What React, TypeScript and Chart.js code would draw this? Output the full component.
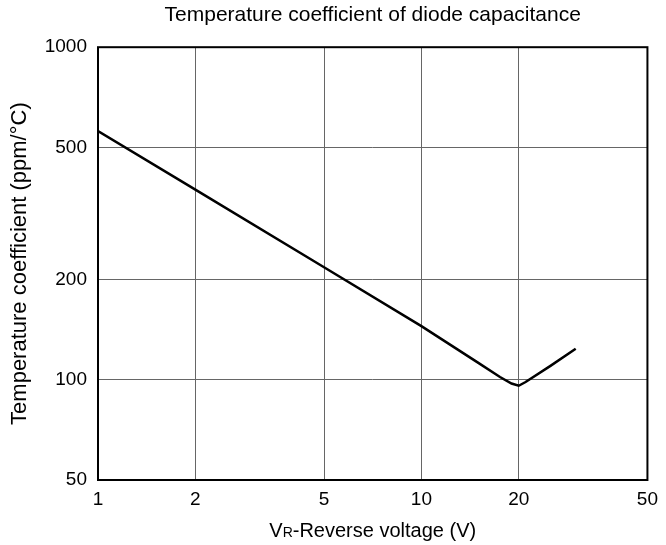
import React, { useEffect, useRef } from "react";
import { Chart, registerables } from "chart.js";

Chart.register(...registerables);

const voltage = [1, 2, 5, 10, 15, 17.5, 19, 20, 21, 25, 30];
const tempCoef = [560, 373, 218, 145, 112.5, 102, 97.5, 96, 98.5, 110, 124];
const xTicks = [1, 2, 5, 10, 20, 50];
const yTicks = [50, 100, 200, 500, 1000];

const FONT = "'Liberation Sans', Arial, Helvetica, sans-serif";

const framePlugin = {
  id: "frame",
  afterDraw(chart: any) {
    const { ctx, chartArea } = chart;
    const { left, top, right, bottom } = chartArea;
    ctx.save();
    ctx.strokeStyle = "#000";
    ctx.lineWidth = 2;
    ctx.strokeRect(left, top, right - left, bottom - top);
    ctx.restore();
  },
};

// x-axis title with a small "R" after "V"
const xTitlePlugin = {
  id: "xTitle",
  afterDraw(chart: any) {
    const { ctx, chartArea } = chart;
    const parts = [
      { t: "V", size: 20 },
      { t: "R", size: 14 },
      { t: "-Reverse voltage (V)", size: 20 },
    ];
    ctx.save();
    ctx.fillStyle = "#000";
    ctx.textBaseline = "alphabetic";
    ctx.textAlign = "left";
    let total = 0;
    const widths = parts.map((p) => {
      ctx.font = `${p.size}px ${FONT}`;
      const w = ctx.measureText(p.t).width;
      total += w;
      return w;
    });
    let x = (chartArea.left + chartArea.right) / 2 - total / 2;
    const baseline = 537;
    parts.forEach((p, i) => {
      ctx.font = `${p.size}px ${FONT}`;
      ctx.fillText(p.t, x, baseline);
      x += widths[i];
    });
    ctx.restore();
  },
};

export default function App() {
  const ref = useRef<HTMLCanvasElement | null>(null);

  useEffect(() => {
    document.body.style.margin = "0";
    const canvas = ref.current;
    if (!canvas) return;
    const chart = new Chart(canvas, {
      type: "line",
      data: {
        datasets: [
          {
            data: voltage.map((v, i) => ({ x: v, y: tempCoef[i] })),
            borderColor: "#000",
            borderWidth: 2.5,
            pointRadius: 0,
            tension: 0,
            fill: false,
          },
        ],
      },
      options: {
        animation: false,
        responsive: false,
        maintainAspectRatio: false,
        layout: { padding: { left: 0, right: 16, top: 0, bottom: 0 } },
        plugins: {
          legend: { display: false },
          tooltip: { enabled: false },
          title: {
            display: true,
            fullSize: false,
            text: "Temperature coefficient of diode capacitance",
            color: "#000",
            font: { family: FONT, size: 21, weight: "normal" },
            padding: { top: 3, bottom: 19 },
          },
        },
        scales: {
          x: {
            type: "logarithmic",
            min: 1,
            max: 50,
            afterBuildTicks: (s: any) => {
              s.ticks = xTicks.map((v) => ({ value: v }));
            },
            afterFit: (s: any) => {
              s.height = 65;
            },
            ticks: {
              callback: (v: any) => String(v),
              color: "#000",
              font: { family: FONT, size: 19 },
              padding: 8,
              autoSkip: false,
              maxRotation: 0,
            },
            grid: { color: "#666", lineWidth: 1, drawTicks: false },
            border: { display: false },
            title: { display: false },
          },
          y: {
            type: "logarithmic",
            min: 50,
            max: 1000,
            afterBuildTicks: (s: any) => {
              s.ticks = yTicks.map((v) => ({ value: v }));
            },
            afterFit: (s: any) => {
              s.width = 98;
            },
            ticks: {
              callback: (v: any) => String(v),
              color: "#000",
              font: { family: FONT, size: 19 },
              padding: 11,
              autoSkip: false,
            },
            grid: { color: "#666", lineWidth: 1, drawTicks: false },
            border: { display: false },
            title: {
              display: true,
              text: "Temperature coefficient (ppm/°C)",
              color: "#000",
              font: { family: FONT, size: 22 },
              padding: { top: 7, bottom: 0 },
            },
          },
        },
      },
      plugins: [framePlugin, xTitlePlugin],
    } as any);
    return () => chart.destroy();
  }, []);

  return (
    <div style={{ width: 666, height: 545 }}>
      <canvas ref={ref} width={666} height={545} style={{ display: "block" }} />
    </div>
  );
}
